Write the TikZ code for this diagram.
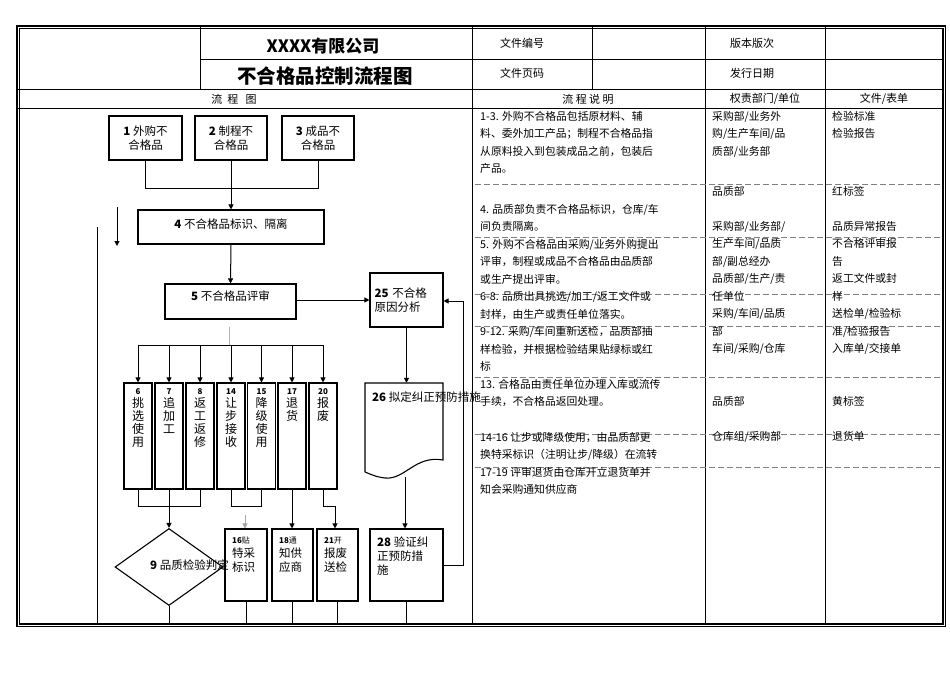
\documentclass[tikz,border=0pt]{standalone}
\usepackage{fontspec}
\setmainfont{Noto Sans CJK SC}
\usetikzlibrary{shapes.geometric,arrows.meta}
\tikzset{
  box/.style={draw, line width=1.1pt, inner sep=0pt, align=center, font=\fontsize{11.5}{14}\selectfont},
  col/.style={draw, line width=1.1pt, inner sep=0pt, minimum width=28pt, minimum height=106pt},
  flow/.style={line width=1pt},
  arr/.style={flow, -{Triangle[length=5pt,width=5pt]}},
  grid/.style={line width=0.6pt},
  rowline/.style={gray, line width=0.5pt, dash pattern=on 6pt off 3pt},
  txt/.style={anchor=north west, inner sep=0pt, align=left, font=\fontsize{10.8}{17.5}\selectfont},
  hd/.style={inner sep=0pt, font=\fontsize{11}{12}\selectfont},
  lbl/.style={inner sep=0pt, font=\fontsize{11.5}{14}\selectfont}
}
\begin{document}
\begin{tikzpicture}[x=1pt,y=-1pt]
\useasboundingbox (0,0) rectangle (950,672);
% frame and header
\draw[line width=1.6pt, double, double distance=1pt] (18,27) rectangle (944,625);
\draw[grid] (18,89) -- (944,89) (18,108) -- (944,108);
\draw[grid] (200,59) -- (472,59) (472,59) -- (944,59);
\draw[grid] (200,27) -- (200,89) (472,27) -- (472,625) (592,27) -- (592,89);
\draw[grid] (705,27) -- (705,625) (825,27) -- (825,625);
\node[font=\bfseries\fontsize{17}{18}\selectfont] (ttl1) at (323,46) {XXXX有限公司};
\node[font=\bfseries\fontsize{19.5}{20}\selectfont] (ttl2) at (325,76) {不合格品控制流程图};
\node[hd] (h1) at (522,43) {文件编号};
\node[hd] (h2) at (522,73) {文件页码};
\node[hd] (h3) at (752,43) {版本版次};
\node[hd] (h4) at (752,73) {发行日期};
\node[hd] (h5) at (234,99) {流\ \ 程\ \ \ 图};
\node[hd] (h6) at (588,99) {流\ 程\ 说\ 明};
\node[hd] (h7) at (765,99) {权责部门/单位};
\node[hd] (h8) at (884,99) {文件/表单};
% dashed row lines
\foreach \y in {184,237,294,326,377,434,467}
  \draw[rowline] (475,\y) -- (940,\y);
% description texts
\node[txt] (d1) at (480,111) {1-3. 外购不合格品包括原材料、辅\\料、委外加工产品；制程不合格品指\\从原料投入到包装成品之前，包装后\\产品。};
\node[txt] (d2) at (480,204) {4. 品质部负责不合格品标识，仓库/车\\间负责隔离。};
\node[txt] (d3) at (480,239) {5. 外购不合格品由采购/业务外购提出\\评审，制程或成品不合格品由品质部\\或生产提出评审。\\6-8. 品质出具挑选/加工/返工文件或\\封样，由生产或责任单位落实。\\9-12. 采购/车间重新送检，品质部抽\\样检验，并根据检验结果贴绿标或红\\标\\13. 合格品由责任单位办理入库或流传\\手续，不合格品返回处理。};
\node[txt] (d4) at (480,432) {14-16 让步或降级使用，由品质部更\\换特采标识（注明让步/降级）在流转\\17-19 评审退货由仓库开立退货单并\\知会采购通知供应商};
\node[txt] (p1) at (712,111) {采购部/业务外\\购/生产车间/品\\质部/业务部};
\node[txt] (p2) at (712,186) {品质部\\\\采购部/业务部/\\生产车间/品质\\部/副总经办\\品质部/生产/责\\任单位\\采购/车间/品质\\部\\车间/采购/仓库\\\\\\品质部\\\\仓库组/采购部};
\node[txt] (f1) at (832,111) {检验标准\\检验报告};
\node[txt] (f2) at (832,186) {红标签\\\\品质异常报告\\不合格评审报\\告\\返工文件或封\\样\\送检单/检验标\\准/检验报告\\入库单/交接单\\\\\\黄标签\\\\退货单};
% flow chart boxes
\node[box, minimum width=73pt, minimum height=44pt] (b1) at (145.5,138) {\textbf{1} 外购不\\合格品};
\node[box, minimum width=72pt, minimum height=44pt] (b2) at (231,138) {\textbf{2} 制程不\\合格品};
\node[box, minimum width=72pt, minimum height=44pt] (b3) at (318,138) {\textbf{3} 成品不\\合格品};
\node[box, minimum width=186pt, minimum height=34pt] (b4) at (231,227) {};
\node[lbl] (t4) at (231,224) {\textbf{4} 不合格品标识、隔离};
\node[box, minimum width=131pt, minimum height=35pt] (b5) at (230.5,301.5) {};
\node[lbl] (t5) at (230.5,296) {\textbf{5} 不合格品评审};
\node[box, minimum width=73pt, minimum height=54pt, text width=64pt, align=left] (b25) at (406.5,300) {\textbf{25} 不合格\\原因分析};
% columns
\foreach \n/\t/\x in {6/{挑\\选\\使\\用}/138, 7/{追\\加\\工}/169, 8/{返\\工\\返\\修}/200, 14/{让\\步\\接\\收}/231, 15/{降\\级\\使\\用}/261.5, 17/{退\\货}/292, 20/{报\\废}/323} {
  \node[col] (c\n) at (\x,436) {};
  \node[anchor=north, inner sep=0pt, align=center, font=\fontsize{12}{13}\selectfont] (ct\n) at ([yshift=-6pt]c\n.north) {\footnotesize\textbf{\n}\\\t};
}
% document shape 26
\node[minimum width=78pt, minimum height=90pt, inner sep=0pt] (b26) at (404,428) {};
\draw[line width=1.1pt] (365,472) -- (365,383) -- (443,383) -- (443,460)
  .. controls (415,455) and (405,480) .. (385,478) .. controls (376,477) and (370,474) .. (365,472);
\node[anchor=west, lbl] (t26) at (372,397) {\textbf{26} 拟定纠正预防措施};
\node[draw, diamond, line width=1.1pt, minimum width=108pt, minimum height=77pt, inner sep=0pt] (b9) at (169,567) {};
\node[anchor=west, lbl] (t9) at (150,565) {\textbf{9} 品质检验判定};
\node[box, minimum width=42pt, minimum height=72pt] (b16) at (246,565) {};
\node[anchor=north west, align=left, lbl] (t16) at (232,537) {\footnotesize\textbf{16}贴\\特采\\标识};
\node[box, minimum width=41pt, minimum height=72pt] (b18) at (292.5,565) {};
\node[anchor=north west, align=left, lbl] (t18) at (279,537) {\footnotesize\textbf{18}通\\知供\\应商};
\node[box, minimum width=41pt, minimum height=72pt] (b21) at (337.5,565) {};
\node[anchor=north west, align=left, lbl] (t21) at (324,537) {\footnotesize\textbf{21}开\\报废\\送检};
\node[box, minimum width=73pt, minimum height=72pt] (b28) at (406.5,565) {};
\node[anchor=north west, align=left, lbl] (t28) at (377,537) {\textbf{28} 验证纠\\正预防措\\施};
% connectors
\coordinate (m1) at (145.5,188);
\coordinate (m3) at (318,188);
\draw[flow] (b1.south) -- (m1) -- (m3) -- (b3.south);
\draw[arr] (b2.south) -- (b4.north);
\coordinate (s1) at (117,207);
\coordinate (s2) at (117,246);
\draw[arr] (s1) -- (s2);
\coordinate (l1) at (97,227);
\coordinate (l2) at (97,625);
\draw[flow] (l1) -- (l2);
\draw[arr] (b5.east |- b25.west) -- (b25.west);
\draw[arr] (b4.south) -- (b5.north);
\coordinate (g1) at (229,327);
\coordinate (g2) at (229,345);
\draw[gray!60, line width=0.4pt] (g1) -- (g2);
\coordinate (bar1) at (138,345);
\coordinate (bar2) at (323,345);
\draw[flow] (bar1) -- (bar2);
\foreach \n in {6,7,8,14,15,17,20}
  \draw[arr] (c\n.north |- bar1) -- (c\n.north);
\draw[arr] (b25.south) -- (b26.north -| b25.south);
\coordinate (j6) at (138,506);
\coordinate (j8) at (200,506);
\draw[flow] (c6.south) -- (j6) -- (j8) -- (c8.south);
\draw[arr] (c7.south) -- (b9.north);
\coordinate (j14) at (231,506);
\coordinate (j15) at (261.5,506);
\draw[flow] (c14.south) -- (j14) -- (j15) -- (c15.south);
\coordinate (g3) at (245,515);
\draw[gray!70, line width=0.4pt, -{Triangle[length=5pt,width=5pt]}] (g3) -- (b16.north -| g3);
\draw[arr] (c17.south) -- (b18.north -| c17.south);
\coordinate (j20) at (323,506);
\coordinate (j21) at (335,506);
\draw[flow] (c20.south) -- (j20) -- (j21);
\draw[arr] (j21) -- (b21.north -| j21);
\coordinate (k26) at (405,477);
\draw[arr] (k26) -- (b28.north -| k26);
\coordinate (r1) at (463,565);
\coordinate (r2) at (463,301);
\draw[flow] (b28.east |- r1) -- (r1) -- (r2);
\draw[arr] (r2) -- (b25.east |- r2);
\foreach \b in {b9,b16,b18,b21,b28}
  \draw[flow] (\b.south) -- (\b.south |- l2);
\end{tikzpicture}
\end{document}
